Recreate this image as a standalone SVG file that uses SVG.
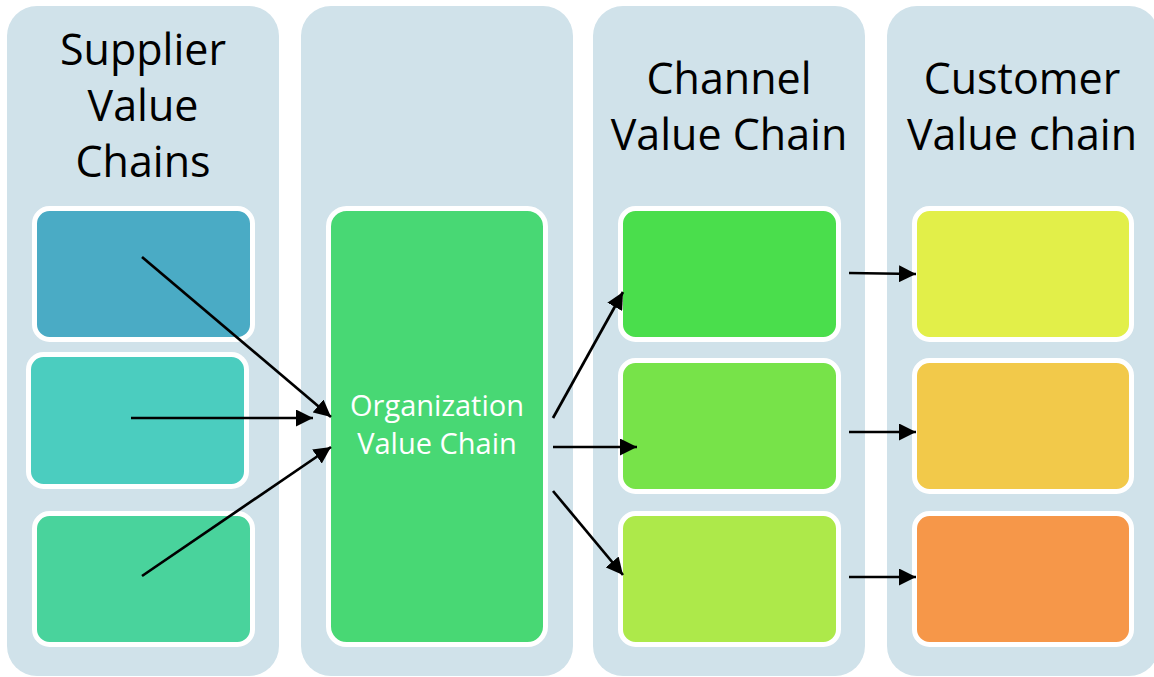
<svg xmlns="http://www.w3.org/2000/svg" width="1154" height="677" viewBox="0 0 1154 677">
  <defs>
    <style>
      .col { fill: #D0E2EA; }
      .box { stroke: #FFFFFF; stroke-width: 5; }
      .title { font-family: "Open Sans", "Liberation Sans", sans-serif; font-size: 43px; fill: #000000; text-anchor: middle; }
      .label { font-family: "Open Sans", "Liberation Sans", sans-serif; font-size: 29px; fill: #FFFFFF; text-anchor: middle; }
      .link { stroke: #000000; stroke-width: 2.7; fill: none; marker-end: url(#arrow); }
    </style>
    <marker id="arrow" markerUnits="userSpaceOnUse" markerWidth="17" markerHeight="17" refX="17" refY="8.5" orient="auto">
      <path d="M0,0 L17,8.5 L0,17 Z" fill="#000000"/>
    </marker>
  </defs>

  <rect width="1154" height="677" fill="#FFFFFF"/>

  <!-- column panels -->
  <g id="col-supplier">
    <rect class="col" x="7" y="6" width="272" height="670" rx="30"/>
    <text class="title" x="143" y="65">Supplier</text>
    <text class="title" x="143" y="121">Value</text>
    <text class="title" x="143" y="177">Chains</text>
  </g>
  <g id="col-organization">
    <rect class="col" x="301" y="6" width="272" height="670" rx="30"/>
  </g>
  <g id="col-channel">
    <rect class="col" x="593" y="6" width="272" height="670" rx="30"/>
    <text class="title" x="729" y="94">Channel</text>
    <text class="title" x="729" y="150">Value Chain</text>
  </g>
  <g id="col-customer">
    <rect class="col" x="887" y="6" width="272" height="670" rx="30"/>
    <text class="title" x="1022" y="94">Customer</text>
    <text class="title" x="1022" y="150">Value chain</text>
  </g>

  <!-- supplier boxes -->
  <g id="supplier-1"><rect class="box" x="34.5" y="208.5" width="218" height="131" rx="15" fill="#4AABC5"/></g>
  <g id="supplier-2"><rect class="box" x="28.5" y="354.5" width="218" height="132" rx="15" fill="#4BCDBF"/></g>
  <g id="supplier-3"><rect class="box" x="34.5" y="513.5" width="218" height="131" rx="15" fill="#49D39C"/></g>

  <!-- organization -->
  <g id="organization">
    <rect class="box" x="328.5" y="208.5" width="217" height="436" rx="18" fill="#48D874"/>
    <text class="label" x="437" y="416">Organization</text>
    <text class="label" x="437" y="454">Value Chain</text>
  </g>

  <!-- channel boxes -->
  <g id="channel-1"><rect class="box" x="620.5" y="208.5" width="218" height="131" rx="15" fill="#4ADE4C"/></g>
  <g id="channel-2"><rect class="box" x="620.5" y="360.5" width="218" height="131" rx="15" fill="#77E349"/></g>
  <g id="channel-3"><rect class="box" x="620.5" y="513.5" width="218" height="131" rx="15" fill="#ADE94A"/></g>

  <!-- customer boxes -->
  <g id="customer-1"><rect class="box" x="914.5" y="208.5" width="217" height="131" rx="15" fill="#E2EF49"/></g>
  <g id="customer-2"><rect class="box" x="914.5" y="360.5" width="217" height="131" rx="15" fill="#F2C94A"/></g>
  <g id="customer-3"><rect class="box" x="914.5" y="513.5" width="217" height="131" rx="15" fill="#F69749"/></g>

  <!-- connectors -->
  <g id="connectors">
    <line class="link" x1="142" y1="257" x2="331" y2="417"/>
    <line class="link" x1="131" y1="418" x2="313" y2="418"/>
    <line class="link" x1="142" y1="576" x2="331" y2="447"/>
    <line class="link" x1="553" y1="418" x2="623" y2="292"/>
    <line class="link" x1="553" y1="447" x2="637" y2="447"/>
    <line class="link" x1="553" y1="491" x2="623" y2="575"/>
    <line class="link" x1="849" y1="273" x2="916" y2="274"/>
    <line class="link" x1="849" y1="432" x2="916" y2="432"/>
    <line class="link" x1="849" y1="577" x2="916" y2="577"/>
  </g>
</svg>
